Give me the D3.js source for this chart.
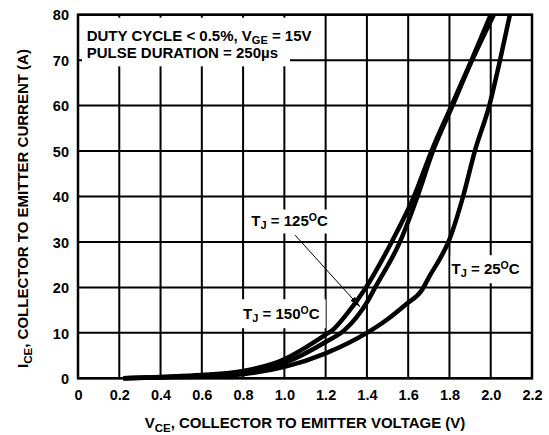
<!DOCTYPE html>
<html>
<head>
<meta charset="utf-8">
<script src="https://cdn.jsdelivr.net/npm/d3@7"></script>
<style>
  html, body { margin: 0; padding: 0; background: #fff; }
  svg { display: block; }
  text { font-family: Arial, "Liberation Sans", Helvetica, sans-serif; font-weight: bold; fill: #000; }
</style>
</head>
<body>
<svg id="chart" width="549" height="435"></svg>
<script>
// ---- data ----
const xTicks = [0, 0.2, 0.4, 0.6, 0.8, 1.0, 1.2, 1.4, 1.6, 1.8, 2.0, 2.2];
const xTickLabels = ["0", "0.2", "0.4", "0.6", "0.8", "1.0", "1.2", "1.4", "1.6", "1.8", "2.0", "2.2"];
const yTicks = [0, 10, 20, 30, 40, 50, 60, 70, 80];
const yTickLabels = ["0", "10", "20", "30", "40", "50", "60", "70", "80"];

const vce25  = [0.22, 0.4, 0.6, 0.8, 1.0, 1.2, 1.4, 1.5, 1.59, 1.665, 1.705, 1.75, 1.795, 1.866, 1.923, 1.993, 2.045, 2.093];
const ice25  = [0,    0.2, 0.4, 0.9, 2.5, 5.5, 10,  13,  16.3, 19.3,  22.6,  26,   30,    40,    50,    60,    70,    80];

const vce125 = [0.22, 0.4,  0.6,  0.8,  1.0, 1.2, 1.294, 1.4,  1.44, 1.56, 1.645, 1.72, 1.815, 1.91, 2.015];
const ice125 = [0,    0.25, 0.55, 1.25, 3.4, 8,   10.7,  16.7, 20,   30,   40,    50,   60,    70,   80];

const vce150 = [0.22, 0.4, 0.6, 0.8, 1.0, 1.1, 1.2, 1.236, 1.3, 1.39, 1.52, 1.628, 1.713, 1.81, 1.907, 2.0];
const ice150 = [0,    0.3, 0.7, 1.6, 4.2, 6.7, 9.6, 10.7,  14,  19.6, 30,   40,    50,    60,   70,    80];

const svg = d3.select("#chart");
const x = d3.scaleLinear().domain([0, 2.2]).range([78, 532]);
const y = d3.scaleLinear().domain([0, 80]).range([378.3, 14.7]);

// ---- grid ----
const grid = svg.append("g");
grid.selectAll("line.v").data(xTicks).join("line")
  .attr("x1", d => x(d)).attr("x2", d => x(d))
  .attr("y1", y(0)).attr("y2", y(80))
  .attr("stroke", "#000").attr("stroke-width", 2);
grid.selectAll("line.h").data(yTicks).join("line")
  .attr("x1", x(0)).attr("x2", x(2.2))
  .attr("y1", d => y(d)).attr("y2", d => y(d))
  .attr("stroke", "#000").attr("stroke-width", 2);

// ---- masks + labels layer ----
const maskG = svg.append("g");
const labelG = svg.append("g");

function addLabel(parts, vx, vy) {
  const t = labelG.append("text")
    .attr("x", x(vx)).attr("y", y(vy))
    .attr("font-size", 15);
  parts.forEach(p => {
    const ts = t.append("tspan").text(p.t);
    if (p.sub) ts.attr("font-size", 11).attr("dy", 3);
    else if (p.sup) ts.attr("font-size", 10.5).attr("dy", p.dy);
    else if (p.dy) ts.attr("dy", p.dy);
  });
  return t;
}
function mask(t, padL, padR, padT, padB) {
  const b = t.node().getBBox();
  maskG.append("rect")
    .attr("x", b.x - padL).attr("y", b.y - padT)
    .attr("width", b.width + padL + padR).attr("height", b.height + padT + padB)
    .attr("fill", "#fff");
}

// legend lines
const l1 = addLabel([{t: "DUTY CYCLE < 0.5%, V"}, {t: "GE", sub: true}, {t: " = 15V", dy: -3}], 0.042, 74.3);
const l2 = addLabel([{t: "PULSE DURATION = 250µs"}], 0.042, 70.4);
// T_J labels
const t125 = addLabel([{t: "T"}, {t: "J", sub: true}, {t: " = 125", dy: -3}, {t: "O", sup: true, dy: -5}, {t: "C", dy: 5}], 0.84, 33.4);
const t150 = addLabel([{t: "T"}, {t: "J", sub: true}, {t: " = 150", dy: -3}, {t: "O", sup: true, dy: -5}, {t: "C", dy: 5}], 0.80, 13.0);
const t25  = addLabel([{t: "T"}, {t: "J", sub: true}, {t: " = 25", dy: -3}, {t: "O", sup: true, dy: -5}, {t: "C", dy: 5}], 1.81, 22.9);

// masks
(function(){
  const b1 = l1.node().getBBox();
  maskG.append("rect").attr("x", x(0) + 4).attr("y", y(80) + 3)
    .attr("width", b1.x + b1.width + 4 - (x(0) + 4)).attr("height", b1.y + b1.height - (y(80) + 3))
    .attr("fill", "#fff");
  const b2 = l2.node().getBBox();
  maskG.append("rect").attr("x", x(0) + 4).attr("y", b2.y)
    .attr("width", b2.x + b2.width + 12 - (x(0) + 4)).attr("height", b2.height + 5)
    .attr("fill", "#fff");
})();
mask(t125, 3, 3, 2, 2);
mask(t150, 3, 6, 5, 4);
mask(t25, 1, 4, 4, 4);

// ---- border ----
svg.append("rect")
  .attr("x", x(0)).attr("y", y(80))
  .attr("width", x(2.2) - x(0)).attr("height", y(0) - y(80))
  .attr("fill", "none").attr("stroke", "#000").attr("stroke-width", 2.5);

// ---- curves ----
svg.append("clipPath").attr("id", "clip").append("rect")
  .attr("x", x(0)).attr("y", y(80)).attr("width", x(2.2) - x(0)).attr("height", y(0) - y(80) + 3);
const line = d3.line().x(d => x(d[0])).y(d => y(d[1])).curve(d3.curveMonotoneX);
const series = [
  d3.zip(vce25, ice25),
  d3.zip(vce125, ice125),
  d3.zip(vce150, ice150)
];
svg.append("g").attr("clip-path", "url(#clip)")
  .selectAll("path").data(series).join("path")
  .attr("d", line)
  .attr("fill", "none").attr("stroke", "#000").attr("stroke-width", 4.5)
  .attr("stroke-linejoin", "round").attr("stroke-linecap", "butt");

// ---- arrow ----
const a0 = [x(1.052), y(31.5)], a1 = [x(1.367), y(15.7)];
svg.append("line").attr("x1", a0[0]).attr("y1", a0[1]).attr("x2", a1[0]).attr("y2", a1[1])
  .attr("stroke", "#000").attr("stroke-width", 1);
(function(){
  const dx = a1[0] - a0[0], dy = a1[1] - a0[1], L = Math.hypot(dx, dy);
  const ux = dx / L, uy = dy / L, len = 11, w = 3;
  const bx = a1[0] - ux * len, by = a1[1] - uy * len;
  svg.append("path")
    .attr("d", `M${a1[0]},${a1[1]}L${bx - uy * w},${by + ux * w}L${bx + uy * w},${by - ux * w}Z`)
    .attr("fill", "#000");
})();

// ---- labels on top ----
labelG.raise();

// ---- axes ----
const xAxis = d3.axisBottom(x).tickValues(xTicks).tickFormat((d, i) => xTickLabels[i]).tickSize(0).tickPadding(0);
const gx = svg.append("g").attr("transform", `translate(0, ${y(0)})`).call(xAxis);
gx.select(".domain").remove();
gx.selectAll("text").attr("font-size", 14.5).attr("dy", null).attr("y", 22)
  .attr("font-family", "Arial, 'Liberation Sans', sans-serif").attr("font-weight", "bold").attr("fill", "#000");

const yAxis = d3.axisLeft(y).tickValues(yTicks).tickFormat((d, i) => yTickLabels[i]).tickSize(0).tickPadding(0);
const gy = svg.append("g").attr("transform", `translate(${x(0)}, 0)`).call(yAxis);
gy.select(".domain").remove();
gy.selectAll("text").attr("font-size", 14.5).attr("x", -9).attr("dy", "0.36em")
  .attr("font-family", "Arial, 'Liberation Sans', sans-serif").attr("font-weight", "bold").attr("fill", "#000");

// ---- axis titles ----
const xt = svg.append("text").attr("x", (x(0) + x(2.2)) / 2).attr("y", 428)
  .attr("text-anchor", "middle").attr("font-size", 15);
xt.append("tspan").text("V");
xt.append("tspan").text("CE").attr("font-size", 11.5).attr("dy", 4);
xt.append("tspan").text(", COLLECTOR TO EMITTER VOLTAGE (V)").attr("dy", -4);

const yt = svg.append("text").attr("transform", "translate(28, 208.5) rotate(-90)")
  .attr("text-anchor", "middle").attr("font-size", 15);
yt.append("tspan").text("I");
yt.append("tspan").text("CE").attr("font-size", 11.5).attr("dy", 4);
yt.append("tspan").text(", COLLECTOR TO EMITTER CURRENT (A)").attr("dy", -4);
</script>
</body>
</html>
